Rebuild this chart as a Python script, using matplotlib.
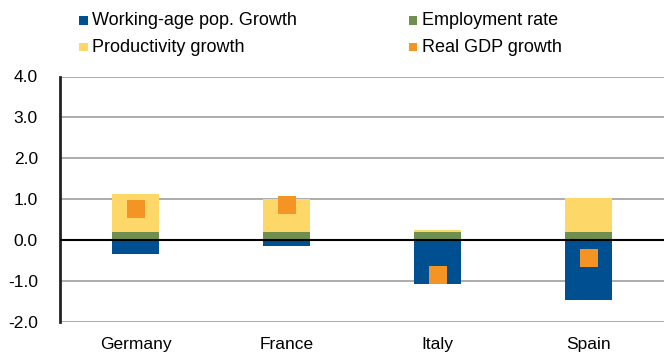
import matplotlib
matplotlib.use("Agg")
import matplotlib.pyplot as plt
from matplotlib.patches import Rectangle
import numpy as np

plt.rcParams['font.family'] = ['Liberation Sans', 'DejaVu Sans']

countries = ["Germany", "France", "Italy", "Spain"]
working_age = [-0.35, -0.15, -1.08, -1.47]
employment = [0.19, 0.19, 0.19, 0.19]
productivity = [0.93, 0.82, 0.05, 0.84]
real_gdp = [0.76, 0.86, -0.86, -0.44]
yticks = [-2.0, -1.0, 0.0, 1.0, 2.0, 3.0, 4.0]
legend_labels = ["Working-age pop. Growth", "Employment rate",
                 "Productivity growth", "Real GDP growth"]

c_blue = "#004F91"
c_green = "#6E8F4E"
c_yellow = "#FDD868"
c_orange = "#F39424"
legend_colors = [c_blue, c_green, c_yellow, c_orange]

W, H = 671, 352
fig = plt.figure(figsize=(W/100, H/100), dpi=100)
ax = fig.add_axes([60/W, 30/H, 604/W, 245.5/H])

fs = 12.5
x = np.arange(len(countries))
w = 0.31
ax.bar(x, working_age, w, color=c_blue, zorder=3)
ax.bar(x, employment, w, color=c_green, zorder=3)
ax.bar(x, productivity, w, bottom=employment, color=c_yellow, zorder=3)
ax.plot(x, real_gdp, linestyle='none', marker='s', markersize=13.5,
        color=c_orange, markeredgewidth=0, zorder=4)

ax.set_xlim(-0.5, len(countries) - 0.5)
ax.set_ylim(-2.0, 4.0)
ax.set_yticks(yticks)
ax.set_yticklabels([f"{v:.1f}" for v in yticks])
ax.set_xticks(x)
ax.set_xticklabels(countries)
ax.tick_params(axis='both', length=0, labelsize=fs, colors='black')
ax.tick_params(axis='y', pad=16)
ax.tick_params(axis='x', pad=11)

ax.grid(axis='y', color='#A6A6A6', linewidth=1.3, zorder=0)
ax.axhline(0, color='black', linewidth=1.5, zorder=5)
for s in ['top', 'right', 'bottom']:
    ax.spines[s].set_visible(False)
ax.spines['left'].set_color('#222222')
ax.spines['left'].set_linewidth(2)
ax.set_axisbelow(True)

# legend (2 columns x 2 rows), placed in figure pixel coordinates
col_x = [79, 409]
row_y = [20.5, 47]
sq = 8.5
for i, (lab, col) in enumerate(zip(legend_labels, legend_colors)):
    cx = col_x[i % 2]
    cy = row_y[i // 2]
    fig.patches.append(Rectangle((cx/W, 1 - (cy + sq/2)/H), sq/W, sq/H,
                                 transform=fig.transFigure, color=col,
                                 linewidth=0, figure=fig))
    fig.text((cx + sq + 5)/W, 1 - cy/H, lab, fontsize=13, va='center',
             ha='left', color='black')

fig.savefig("out.png", dpi=100)
